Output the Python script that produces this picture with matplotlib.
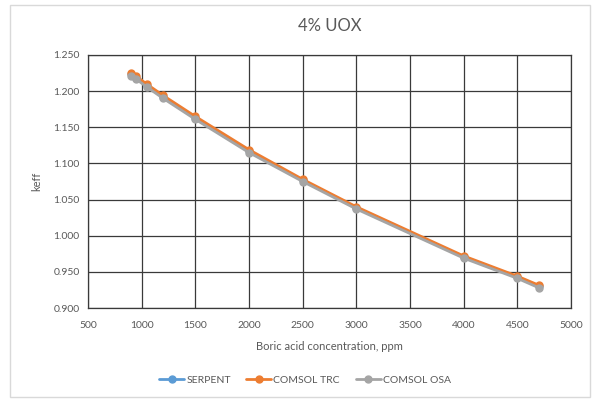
import matplotlib.pyplot as plt

# Boric acid concentration (ppm) and keff for each code
boron_ppm = [900, 950, 1050, 1200, 1500, 2000, 2500, 3000, 4000, 4500, 4700]
keff_serpent = [1.2235, 1.2185, 1.2075, 1.1920, 1.1630, 1.1170, 1.0765, 1.0385, 0.9705, 0.9425, 0.9300]
keff_comsol_trc = [1.2250, 1.2205, 1.2095, 1.1940, 1.1650, 1.1190, 1.0780, 1.0400, 0.9720, 0.9440, 0.9315]
keff_comsol_osa = [1.2210, 1.2165, 1.2055, 1.1900, 1.1610, 1.1150, 1.0750, 1.0370, 0.9690, 0.9410, 0.9280]

series = [
    ('SERPENT', keff_serpent, '#5B9BD5'),
    ('COMSOL TRC', keff_comsol_trc, '#ED7D31'),
    ('COMSOL OSA', keff_comsol_osa, '#A5A5A5'),
]

plt.rcParams['font.family'] = ['Lato', 'DejaVu Sans']
text_color = '#595959'
grid_color = '#3a3a3a'

fig = plt.figure(figsize=(5.93, 4.00), dpi=100)
ax = fig.add_axes([0.1484, 0.23, 0.8146, 0.6325])

for name, vals, color in series:
    ax.plot(boron_ppm, vals, color=color, lw=2, marker='o', markersize=5,
            label=name, solid_capstyle='round')

ax.set_xlim(500, 5000)
ax.set_ylim(0.9, 1.25)
ax.set_xticks(range(500, 5001, 500))
ax.set_yticks([0.9 + 0.05 * i for i in range(8)])
ax.set_yticklabels([f'{0.9 + 0.05 * i:.3f}' for i in range(8)])
ax.grid(True, color=grid_color, lw=0.9)
ax.set_axisbelow(True)
for s in ax.spines.values():
    s.set_color(grid_color)
    s.set_linewidth(0.9)
ax.tick_params(axis='x', length=0, labelsize=7.5, labelcolor=text_color, pad=9)
ax.tick_params(axis='y', length=0, labelsize=7.5, labelcolor=text_color, pad=6)

ax.set_xlabel('Boric acid concentration, ppm', fontsize=8, color=text_color, labelpad=8)
ax.set_ylabel('keff', fontsize=8, color=text_color, labelpad=8)
ax.set_title('4% UOX', fontsize=12, color=text_color, pad=17)

ax.legend(loc='center', bbox_to_anchor=(0.449, -0.285), ncol=3, frameon=False,
          fontsize=7.5, labelcolor=text_color, handlelength=2.4,
          columnspacing=1.5, handletextpad=0.2)

# light outer chart border
fig.patches.append(plt.Rectangle((10 / 593, 3 / 400), 580 / 593, 392 / 400,
                                 transform=fig.transFigure, fill=False,
                                 edgecolor='#d9d9d9', lw=1))

fig.savefig('out.png', dpi=100)
